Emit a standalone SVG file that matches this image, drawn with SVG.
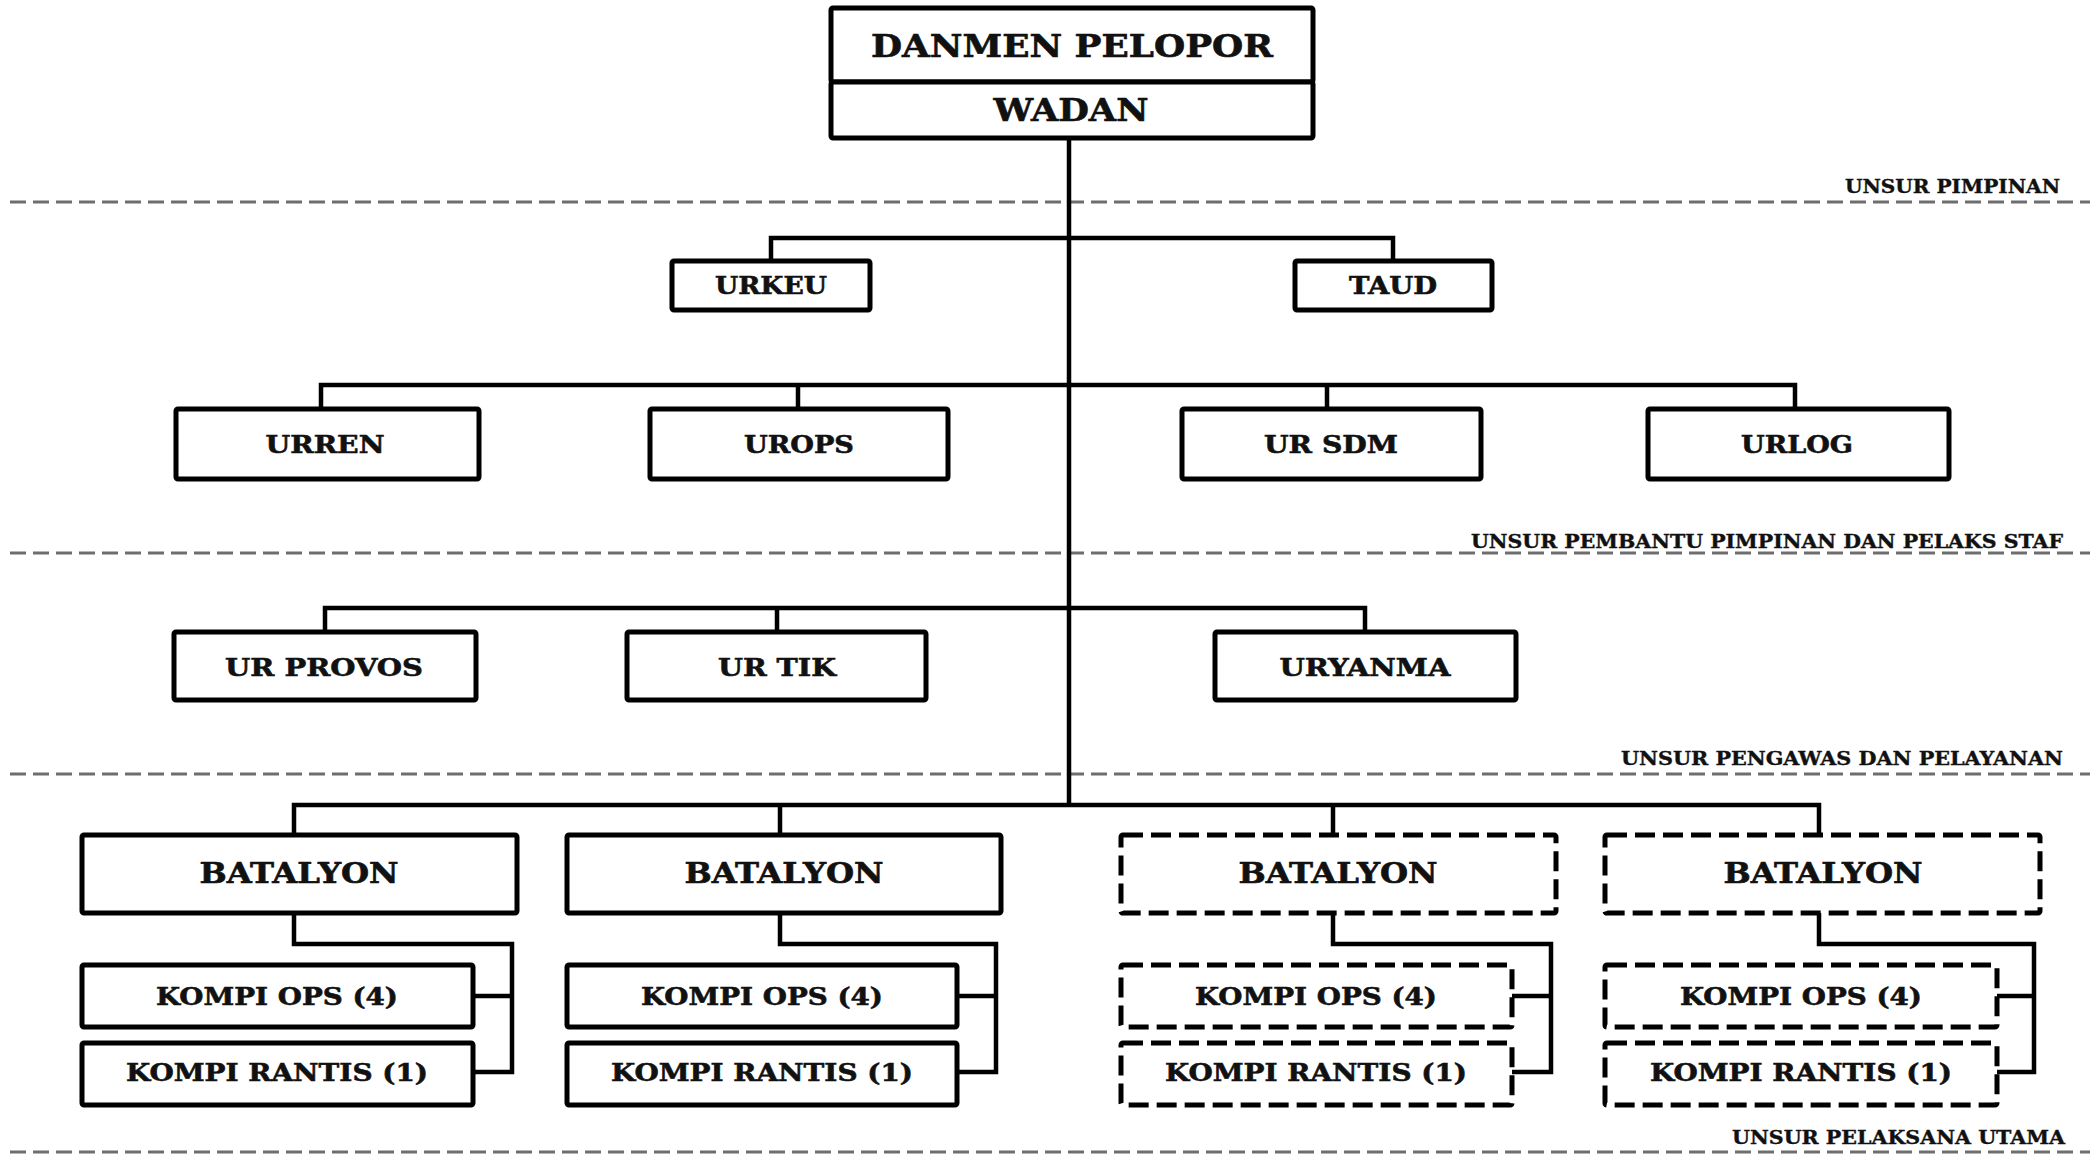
<svg xmlns="http://www.w3.org/2000/svg" width="2096" height="1156" viewBox="0 0 2096 1156">
<style>
.box{fill:#fff;stroke:#000;stroke-width:5}
.dbox{fill:#fff;stroke:#000;stroke-width:5;stroke-dasharray:20 8}
.con{fill:none;stroke:#000;stroke-width:4.5}
.sep{fill:none;stroke:#6e6e6e;stroke-width:3;stroke-dasharray:16 7}
.t{font-family:"DejaVu Serif","Liberation Serif",serif;font-weight:bold;fill:#111;stroke:#111;stroke-width:0.6;text-anchor:middle}
.big{font-size:31px}
.mid{font-size:25px}
.bat{font-size:27px}
.kom{font-size:25px}
.lab{font-family:"DejaVu Serif","Liberation Serif",serif;font-weight:bold;fill:#111;stroke:#111;stroke-width:0.4;font-size:19px;text-anchor:end}
</style>
<rect width="2096" height="1156" fill="#fff"/>
<g id="separators">
<line class="sep" x1="10" y1="202" x2="2090" y2="202"/>
<line class="sep" x1="10" y1="553" x2="2090" y2="553"/>
<line class="sep" x1="10" y1="774" x2="2090" y2="774"/>
<line class="sep" x1="10" y1="1152" x2="2090" y2="1152"/>
<text class="lab" x="2060" y="193" textLength="215" lengthAdjust="spacingAndGlyphs">UNSUR PIMPINAN</text>
<text class="lab" x="2063" y="548" textLength="592" lengthAdjust="spacingAndGlyphs">UNSUR PEMBANTU PIMPINAN DAN PELAKS STAF</text>
<text class="lab" x="2063" y="765" textLength="442" lengthAdjust="spacingAndGlyphs">UNSUR PENGAWAS DAN PELAYANAN</text>
<text class="lab" x="2065" y="1144" textLength="333" lengthAdjust="spacingAndGlyphs">UNSUR PELAKSANA UTAMA</text>
</g>
<g id="connectors">
<path class="con" d="M1069 138 V805"/>
<path class="con" d="M771 261 V238 H1393 V261"/>
<path class="con" d="M321 409 V385 H1795 V409 M798 385 V409 M1327 385 V409"/>
<path class="con" d="M325 632 V608 H1365 V632 M777 608 V632"/>
<path class="con" d="M294 835 V805 H1819 V835 M780 805 V835 M1333 805 V835"/>
<path class="con" d="M294 913 V944 H512 V1072 H473 M473 996 H512"/>
<path class="con" d="M780 913 V944 H996 V1072 H957 M957 996 H996"/>
<path class="con" d="M1333 913 V944 H1551 V1072 H1512 M1512 996 H1551"/>
<path class="con" d="M1819 913 V944 H2034 V1072 H1997 M1997 996 H2034"/>
</g>
<g id="danmen">
<rect class="box" x="831" y="8" width="482" height="74" rx="2"/>
<text class="t big" x="1072" y="57" textLength="402" lengthAdjust="spacingAndGlyphs">DANMEN PELOPOR</text>
</g>
<g id="wadan">
<rect class="box" x="831" y="82" width="482" height="56" rx="2"/>
<text class="t big" x="1071" y="121" textLength="155" lengthAdjust="spacingAndGlyphs">WADAN</text>
</g>
<g id="urkeu">
<rect class="box" x="672" y="261" width="198" height="49" rx="2"/>
<text class="t mid" x="771" y="294" textLength="112" lengthAdjust="spacingAndGlyphs">URKEU</text>
</g>
<g id="taud">
<rect class="box" x="1295" y="261" width="197" height="49" rx="2"/>
<text class="t mid" x="1393" y="294" textLength="88" lengthAdjust="spacingAndGlyphs">TAUD</text>
</g>
<g id="urren">
<rect class="box" x="176" y="409" width="303" height="70" rx="2"/>
<text class="t mid" x="325" y="453" textLength="119" lengthAdjust="spacingAndGlyphs">URREN</text>
</g>
<g id="urops">
<rect class="box" x="650" y="409" width="298" height="70" rx="2"/>
<text class="t mid" x="799" y="453" textLength="110" lengthAdjust="spacingAndGlyphs">UROPS</text>
</g>
<g id="ursdm">
<rect class="box" x="1182" y="409" width="299" height="70" rx="2"/>
<text class="t mid" x="1331" y="453" textLength="134" lengthAdjust="spacingAndGlyphs">UR SDM</text>
</g>
<g id="urlog">
<rect class="box" x="1648" y="409" width="301" height="70" rx="2"/>
<text class="t mid" x="1797" y="453" textLength="112" lengthAdjust="spacingAndGlyphs">URLOG</text>
</g>
<g id="urprovos">
<rect class="box" x="174" y="632" width="302" height="68" rx="2"/>
<text class="t mid" x="324" y="676" textLength="198" lengthAdjust="spacingAndGlyphs">UR PROVOS</text>
</g>
<g id="urtik">
<rect class="box" x="627" y="632" width="299" height="68" rx="2"/>
<text class="t mid" x="777" y="676" textLength="118" lengthAdjust="spacingAndGlyphs">UR TIK</text>
</g>
<g id="uryanma">
<rect class="box" x="1215" y="632" width="301" height="68" rx="2"/>
<text class="t mid" x="1365" y="676" textLength="171" lengthAdjust="spacingAndGlyphs">URYANMA</text>
</g>
<g id="batalyon1">
<rect class="box" x="82" y="835" width="435" height="78" rx="2"/>
<text class="t bat" x="299" y="883" textLength="199" lengthAdjust="spacingAndGlyphs">BATALYON</text>
</g>
<g id="batalyon2">
<rect class="box" x="567" y="835" width="434" height="78" rx="2"/>
<text class="t bat" x="784" y="883" textLength="199" lengthAdjust="spacingAndGlyphs">BATALYON</text>
</g>
<g id="batalyon3">
<rect class="dbox" x="1121" y="835" width="435" height="78" rx="2"/>
<text class="t bat" x="1338" y="883" textLength="199" lengthAdjust="spacingAndGlyphs">BATALYON</text>
</g>
<g id="batalyon4">
<rect class="dbox" x="1605" y="835" width="435" height="78" rx="2"/>
<text class="t bat" x="1823" y="883" textLength="199" lengthAdjust="spacingAndGlyphs">BATALYON</text>
</g>
<g id="kompiops1">
<rect class="box" x="82" y="965" width="391" height="62" rx="2"/>
<text class="t kom" x="277" y="1005" textLength="242" lengthAdjust="spacingAndGlyphs">KOMPI OPS (4)</text>
</g>
<g id="kompirantis1">
<rect class="box" x="82" y="1043" width="391" height="62" rx="2"/>
<text class="t kom" x="277" y="1081" textLength="302" lengthAdjust="spacingAndGlyphs">KOMPI RANTIS (1)</text>
</g>
<g id="kompiops2">
<rect class="box" x="567" y="965" width="390" height="62" rx="2"/>
<text class="t kom" x="762" y="1005" textLength="242" lengthAdjust="spacingAndGlyphs">KOMPI OPS (4)</text>
</g>
<g id="kompirantis2">
<rect class="box" x="567" y="1043" width="390" height="62" rx="2"/>
<text class="t kom" x="762" y="1081" textLength="302" lengthAdjust="spacingAndGlyphs">KOMPI RANTIS (1)</text>
</g>
<g id="kompiops3">
<rect class="dbox" x="1121" y="965" width="391" height="62" rx="2"/>
<text class="t kom" x="1316" y="1005" textLength="242" lengthAdjust="spacingAndGlyphs">KOMPI OPS (4)</text>
</g>
<g id="kompirantis3">
<rect class="dbox" x="1121" y="1043" width="391" height="62" rx="2"/>
<text class="t kom" x="1316" y="1081" textLength="302" lengthAdjust="spacingAndGlyphs">KOMPI RANTIS (1)</text>
</g>
<g id="kompiops4">
<rect class="dbox" x="1605" y="965" width="392" height="62" rx="2"/>
<text class="t kom" x="1801" y="1005" textLength="242" lengthAdjust="spacingAndGlyphs">KOMPI OPS (4)</text>
</g>
<g id="kompirantis4">
<rect class="dbox" x="1605" y="1043" width="392" height="62" rx="2"/>
<text class="t kom" x="1801" y="1081" textLength="302" lengthAdjust="spacingAndGlyphs">KOMPI RANTIS (1)</text>
</g>
</svg>
